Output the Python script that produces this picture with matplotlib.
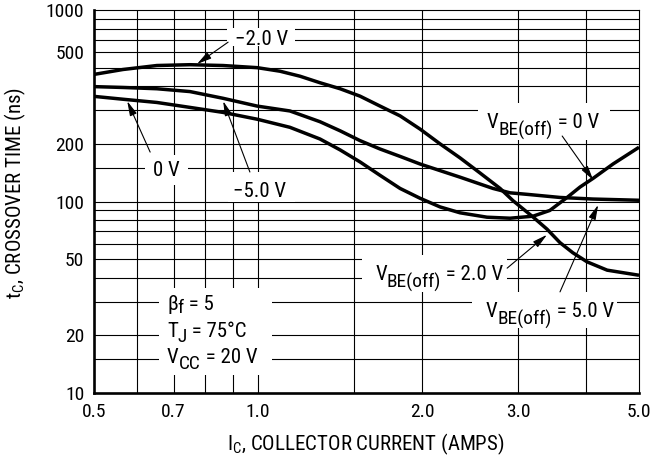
import matplotlib
matplotlib.use("Agg")
import matplotlib.pyplot as plt
from matplotlib.patches import Rectangle
from matplotlib.ticker import FixedLocator, FixedFormatter, NullLocator

# narrow sans, close to the data sheet lettering
plt.rcParams['font.family'] = ['Roboto Condensed', 'DejaVu Sans']
plt.rcParams['mathtext.fontset'] = 'custom'
plt.rcParams['mathtext.rm'] = 'Roboto Condensed'
plt.rcParams['mathtext.it'] = 'Roboto Condensed'

# collector current (A) vs crossover time (ns), one pair per V_BE(off)
ic_2v = [0.50, 0.565, 0.652, 0.75, 0.862, 0.996, 1.097, 1.194, 1.299, 1.414, 1.538, 1.674, 1.822,
         1.982, 2.157, 2.347, 2.553, 2.78, 2.936, 3.195, 3.39, 3.58, 3.78, 4.015, 4.37, 5.0]
tc_2v = [461, 489, 513, 518, 513, 500, 479, 451, 417, 388, 355, 315, 280,
         239, 200, 169, 141, 117, 101, 83, 71.7, 61, 54, 48.4, 43.8, 41.2]

ic_5v = [0.50, 0.565, 0.652, 0.75, 0.862, 0.996, 1.144, 1.299, 1.414, 1.538, 1.674, 1.822,
         1.982, 2.157, 2.347, 2.698, 2.90, 3.115, 3.58, 4.117, 5.0]
tc_5v = [398, 394, 388, 375, 346, 315, 297, 261, 234, 208, 188, 172,
         157, 145, 134, 117, 111, 109, 105, 103, 101.5]

ic_0v = [0.50, 0.565, 0.652, 0.75, 0.862, 0.996, 1.144, 1.299, 1.414, 1.538, 1.674, 1.822,
         1.982, 2.157, 2.347, 2.63, 2.90, 3.195, 3.43, 3.69, 3.897, 4.117, 4.48, 5.0]
tc_0v = [354, 342, 329, 310, 292, 269, 244, 212, 186, 161, 137, 117,
         104, 93.7, 87.3, 82.8, 81.8, 83.8, 89.8, 105, 119, 132, 157, 192]

# axis ticks / grid
x_ticks = [0.5, 0.7, 1.0, 2.0, 3.0, 5.0]
x_tick_labels = ['0.5', '0.7', '1.0', '2.0', '3.0', '5.0']
x_grid = [0.6, 0.7, 0.8, 0.9, 1.0, 1.5, 2.0, 3.0, 4.0]
# the original sheet prints "500" on the 600 grid line
y_ticks = [10, 20, 50, 100, 200, 600, 1000]
y_tick_labels = ['10', '20', '50', '100', '200', '500', '1000']
y_grid = [15, 20, 30, 40, 50, 60, 70, 80, 90, 100, 150, 200, 300, 400, 500, 600, 700, 800, 900]

fig = plt.figure(figsize=(6.52, 4.61), dpi=100)
ax = fig.add_axes([0.1442, 0.1475, 0.8359, 0.8308])
ax.set_xscale('log')
ax.set_yscale('log')
ax.set_xlim(0.5, 5.0)
ax.set_ylim(10, 1000)

for v in x_grid:
    ax.axvline(v, color='black', lw=0.8, zorder=1)
for v in y_grid:
    ax.axhline(v, color='black', lw=0.8, zorder=1)

ax.xaxis.set_major_locator(FixedLocator(x_ticks))
ax.xaxis.set_major_formatter(FixedFormatter(x_tick_labels))
ax.xaxis.set_minor_locator(NullLocator())
ax.yaxis.set_major_locator(FixedLocator(y_ticks))
ax.yaxis.set_major_formatter(FixedFormatter(y_tick_labels))
ax.yaxis.set_minor_locator(NullLocator())
ax.tick_params(length=0, labelsize=14, pad=7)

for side in ['left', 'bottom']:
    ax.spines[side].set_linewidth(1.9)
for side in ['top', 'right']:
    ax.spines[side].set_linewidth(0.8)

# curves
for ic, tc in [(ic_2v, tc_2v), (ic_5v, tc_5v), (ic_0v, tc_0v)]:
    ax.plot(ic, tc, color='black', lw=2.5, solid_capstyle='butt', zorder=3)

# white patches that break the grid behind the labels (axes fraction)
boxes = [
    (0.244, 0.906, 0.125, 0.047),   # -2.0 V
    (0.094, 0.543, 0.078, 0.078),   # 0 V
    (0.246, 0.499, 0.123, 0.078),   # -5.0 V
    (0.705, 0.661, 0.242, 0.096),   # VBE(off) = 0 V
    (0.492, 0.264, 0.266, 0.096),   # VBE(off) = 2.0 V
    (0.694, 0.170, 0.266, 0.094),   # VBE(off) = 5.0 V
    (0.119, 0.047, 0.208, 0.227),   # conditions
]
for x0, y0, w, h in boxes:
    ax.add_patch(Rectangle((x0, y0), w, h, transform=ax.transAxes,
                           facecolor='white', edgecolor='none', zorder=2))

FS = 15


def sub_text(x, y, head, sub, tail, drop=5.5):
    # head, lowered subscript, then back up to the baseline for the rest
    t = ax.text(x, y, head, transform=ax.transAxes, fontsize=FS,
                ha='left', va='baseline', zorder=4)
    s = ax.annotate(sub, xy=(1, 0), xycoords=t, xytext=(0, -drop),
                    textcoords='offset points', fontsize=FS * 0.93,
                    ha='left', va='bottom', zorder=4)
    ax.annotate(tail, xy=(1, 0), xycoords=s, xytext=(0, drop),
                textcoords='offset points', fontsize=FS,
                ha='left', va='bottom', zorder=4)


ax.text(0.259, 0.909, '\u22122.0 V', transform=ax.transAxes, fontsize=FS, va='baseline', zorder=4)
ax.text(0.108, 0.567, '0 V', transform=ax.transAxes, fontsize=FS, va='baseline', zorder=4)
ax.text(0.255, 0.512, '\u22125.0 V', transform=ax.transAxes, fontsize=FS, va='baseline', zorder=4)
sub_text(0.721, 0.692, 'V', 'BE(off)', ' = 0 V')
sub_text(0.516, 0.295, 'V', 'BE(off)', ' = 2.0 V')
sub_text(0.719, 0.198, 'V', 'BE(off)', ' = 5.0 V')
sub_text(0.134, 0.217, '\u03b2', 'f', ' = 5', drop=2.5)
sub_text(0.134, 0.146, 'T', 'J', ' = 75\u00b0C', drop=3.5)
sub_text(0.134, 0.078, 'V', 'CC', ' = 20 V', drop=4.5)

# arrows: (tip, tail) in axes fraction
arrows = [
    ((0.189, 0.859), (0.246, 0.916)),
    ((0.061, 0.762), (0.103, 0.629)),
    ((0.237, 0.762), (0.286, 0.577)),
    ((0.916, 0.556), (0.859, 0.671)),
    ((0.831, 0.413), (0.758, 0.326)),
    ((0.925, 0.491), (0.855, 0.264)),
]
for tip, tail in arrows:
    ax.annotate('', xy=tip, xytext=tail, xycoords='axes fraction',
                arrowprops=dict(arrowstyle='-|>,head_length=0.8,head_width=0.2',
                                color='black', lw=0.8, shrinkA=0, shrinkB=0,
                                mutation_scale=11), zorder=4)

fig.text(0.561, 0.024, r'I$_\mathregular{C}$, COLLECTOR CURRENT (AMPS)',
         fontsize=FS, ha='center', va='baseline')
fig.text(0.023, 0.581, r't$_\mathregular{C}$, CROSSOVER TIME (ns)',
         fontsize=FS, ha='center', va='center', rotation=90)

fig.savefig('out.png', dpi=100)
